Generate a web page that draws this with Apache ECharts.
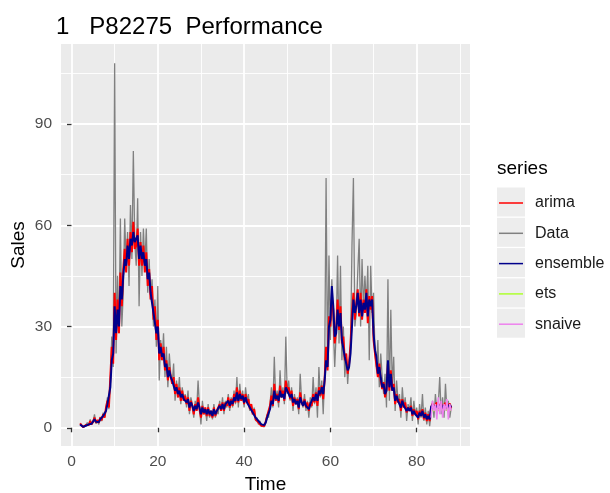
<!DOCTYPE html>
<html>
<head>
<meta charset="utf-8">
<script src="https://cdn.jsdelivr.net/npm/echarts@6/dist/echarts.min.js"></script>
<style>html,body{margin:0;padding:0;background:#fff}#chart{width:610px;height:493px}</style>
</head>
<body>
<div id="chart"></div>
<script>
// Time index of the series: starts at t = 2, three observations per unit of time
const tStart = 2;
const perUnit = 3;

const xTicks = [0, 20, 40, 60, 80];
const xMinorTicks = [10, 30, 50, 70, 90];
const yTicks = [0, 30, 60, 90];
const yMinorTicks = [15, 45, 75, 105];

const seriesNames = ['arima', 'Data', 'ensemble', 'ets', 'snaive'];

// Observed sales (t = 2 .. 88)
const dataValues = [
  1.2, 0.5, 0.2,  0.3, 0.8, 1.5,  0.8, 2.5, 1.0,  1.8, 4.0, 1.2,  2.0, 1.0, 3.2,   // t2-6
  2.0, 4.5, 3.0,  6.0, 9.0, 5.5,  14, 27, 18,  108, 22, 45,  28, 62, 30,           // t7-11
  40, 62, 48,  58, 42, 66,  50, 82, 55,  48, 68, 36,  58, 45, 59,                  // t12-16
  48, 59, 40,  50, 38, 44,  30, 38, 24,  42, 14, 26,  20, 28, 15,                  // t17-21
  24, 12, 22,  16, 13, 19,  8, 14, 9,  15, 7, 12,  8, 10, 6,                       // t22-26
  11, 4, 9,  7, 3, 8,  5, 14, 6,  1, 8, 4,  6, 2, 7,                               // t27-31
  3, 5, 2.5,  7, 3, 5,  4, 8, 5,  9, 4, 8,  6, 10, 5,                              // t32-36
  9, 6, 11,  7, 15, 6,  13, 8, 11,  6, 12, 8,  10, 5, 7,                           // t37-41
  4, 6, 2,  3, 1, 2,  0.5, 1, 0.3,  2, 4, 3,  7, 12, 6,                            // t42-46
  21, 8, 11,  6, 17, 9,  12, 7, 27,  10, 14, 8,  12, 5, 10,                        // t47-51
  7, 9, 4,  16, 8, 6,  10, 5, 8,  3, 9, 6,  15, 7, 12,                             // t52-56
  3, 18, 9,  14, 4, 16,  74, 18, 51,  26, 44, 30,  18, 28, 51,                     // t57-61
  25, 48, 20,  30, 15, 22,  13, 20, 24,  54, 74, 30,  34, 46, 56,                  // t62-66
  30, 50, 35,  45, 36, 48,  20, 48, 34,  40, 22, 18,  26, 12, 22,                  // t67-71
  15, 10, 16,  6, 44, 8,  35, 12, 21,  5, 14, 8,  10, 3, 12,                       // t72-76
  6, 9, 2,  7, 5, 9,  2, 8, 4,  6, 1, 7,  3, 10, 2,                                // t77-81
  6, 1, 5,  0.5, 4, 8,  3, 10, 5,  7, 15, 4,  9, 3, 13,                            // t82-86
  5, 8, 3,  6                                                                      // t87-88
];

// arima fitted values and forecast (t = 2 .. 88)
const arimaValues = [
  1.3, 0.8, 0.2,  0.2, 0.8, 1.3,  0.8, 2.0, 1.0,  1.8, 3.0, 1.5,  2.3, 1.5, 3.0,
  2.2, 4.0, 3.0,  6, 8, 6,  15, 24, 19,  40, 26, 38,  28, 46, 36,
  47, 53, 46,  56, 48, 58,  52, 61, 53,  54, 59, 48,  55, 48, 54,
  46, 52, 42,  47, 38, 42,  32, 36, 26,  32, 20, 25,  20, 24, 17,
  20, 14, 18,  15, 13, 15,  10, 13, 9,  12, 8, 11,  8, 9.5, 7,
  9, 5, 8,  6.5, 4, 7,  5, 9, 5.5,  3, 6.5, 4,  6, 3.5, 6,
  3.5, 5, 3,  6, 3.5, 5,  4.5, 7, 5,  7.5, 5, 7.5,  6.5, 9, 6,
  8.5, 6.5, 10,  7.5, 12, 7.5,  11, 8, 10,  7, 10, 7.5,  8.5, 5.5, 7,
  4, 5.5, 2.5,  3, 1.5, 2,  0.6, 1, 0.5,  1.8, 3.5, 3.2,  6.5, 9.5, 6.5,
  13, 8, 10,  7.5, 12.5, 9,  11, 8, 14,  10.5, 12, 8.5,  11, 6.5, 9,
  7, 8.5, 5.5,  10.5, 7.5, 6.5,  8.5, 6, 7.5,  5, 7.5, 6.5,  10, 7.5, 10.5,
  6.5, 12, 9.5,  12.5, 8.5, 14.5,  24, 17, 33,  30, 38, 35,  25, 29, 38,
  29, 36, 25,  27, 20, 22,  16, 19, 25,  34, 40, 32,  37, 41, 33,
  40, 32, 38,  34, 41, 31,  39, 35, 39,  26, 22, 22,  15, 19, 14,
  11.5, 13.5, 9,  11.5, 19, 11,  17, 11, 13,  7, 10, 7.5,  8.5, 5, 8.5,
  6, 7.5, 4.5,  6, 5, 6.5,  3.5, 5.5, 4,  5, 2.5, 5,  3.5, 5.5, 2.5,
  4.5, 2, 4,  2, 6.0, 7.2,  5.5, 6.8, 7.5,  5.8, 6.6, 7.3,  5.6, 6.7, 7.4,
  5.7, 6.5, 7.2,  5.8
];

// ensemble fitted values and forecast (t = 2 .. 88)
const ensembleValues = [
  1.0, 0.6, 0.3,  0.3, 0.6, 1.0,  1.0, 1.5, 1.2,  1.5, 2.5, 1.8,  2.0, 1.7, 2.5,
  2.5, 3.5, 3.2,  5, 7, 7,  12, 20, 22,  36, 28, 35,  30, 42, 38,
  45, 50, 48,  54, 50, 56,  54, 58, 55,  56, 57, 50,  54, 50, 52,
  48, 50, 44,  46, 40, 40,  34, 34, 28,  30, 22, 24,  21, 22, 18,
  19, 15, 17,  15, 14, 14,  11, 12, 10,  11, 9, 10,  8.5, 9, 7.5,
  8.5, 6, 7.5,  6.5, 5, 6.5,  5.5, 7.5, 6,  4, 6, 4.5,  5.5, 4, 5.5,
  4, 5, 3.5,  5.5, 4, 5,  4.5, 6.5, 5.5,  7, 5.5, 7,  6.5, 8, 6.5,
  8, 7, 9,  8, 10.5, 8,  10, 8.5, 9.5,  7.5, 9, 7.5,  8, 6, 6.5,
  4.5, 5, 3,  3, 2, 2,  1, 1, 0.8,  1.5, 3, 3.5,  5.5, 8, 7,
  11, 8.5, 9.5,  8, 11, 9,  10, 8.5, 12,  11, 11, 9,  10, 7.5, 8.5,
  7, 8, 6,  9, 7.5, 6.5,  8, 6.5, 7,  5.5, 7, 7,  9, 8, 10,
  8, 11, 10,  12, 10, 14,  20, 18, 30,  32, 42, 36,  27, 28, 35,
  30, 34, 26,  26, 21, 21,  17, 18, 22,  30, 38, 34,  36, 40, 34,
  38, 33, 37,  35, 40, 33,  38, 36, 38,  28, 23, 21,  16, 18, 15,
  12, 13, 10,  11, 20, 12,  16, 11, 12,  8, 9.5, 8,  8, 6, 8,
  6.5, 7, 5,  6, 5, 6,  4, 5, 4,  4.5, 3, 4.5,  3.5, 5, 3,
  4, 2.5, 3.5,  2.5, 6.2, 6.8,  5.9, 6.5, 7.0,  6.0, 6.4, 6.9,  5.8, 6.5, 7.0,
  6.0, 6.4, 6.8,  6.0
];

// forecasts only (t = 83.33 .. 88)
const forecastOffset = 244;
const etsValues = [5.3, 5.6, 5.0, 5.4, 5.7, 5.1, 5.3, 5.6, 5.0, 5.4, 5.7, 5.1, 5.3, 5.6, 5.0];
const snaiveValues = [3, 8, 5, 7, 2.5, 9, 4, 8, 3, 7, 5, 8.5, 2.5, 7, 5];

function toPairs(values, offset) {
  return values.map((v, i) => [tStart + (offset + i) / perUnit, v]);
}

const FONT = 'Liberation Sans, Arial, sans-serif';
const gridL = 61, gridR = 140, gridT = 44, gridB = 47;
const legendTop = 187, rowH = 30.3;

const chart = echarts.init(document.getElementById('chart'), null, {renderer: 'canvas'});

const keyRects = seriesNames.map((n, i) => ({
  type: 'rect', left: 497, top: legendTop + i * rowH + 0.5, z: 0,
  shape: {width: 28, height: 29}, style: {fill: '#EDEDED'}, silent: true
}));

const baseLine = {show: false};
chart.setOption({
  animation: false,
  backgroundColor: '#ffffff',
  textStyle: {fontFamily: FONT},
  title: {
    text: '1   P82275  Performance', left: 51, top: 10,
    textStyle: {fontFamily: FONT, fontSize: 24, fontWeight: 'normal', color: '#000'}
  },
  grid: {left: gridL, right: gridR, top: gridT, bottom: gridB, show: true,
         containLabel: false, outerBoundsMode: 'none',
         backgroundColor: '#EBEBEB', borderWidth: 0},
  graphic: [
    {type: 'text', left: 497, top: 159, z: 0,
     style: {text: 'series', fontFamily: FONT, fontSize: 19, fill: '#000'}},
    ...keyRects
  ],
  legend: {
    data: seriesNames, orient: 'vertical', left: 499, top: legendTop + 1, padding: 0,
    icon: 'rect', itemWidth: 24, itemHeight: 1.5, itemGap: 0.3,
    textStyle: {fontFamily: FONT, fontSize: 16, color: '#1a1a1a', lineHeight: 30, padding: [0, 0, 0, 7]},
    selectedMode: false
  },
  xAxis: [{
    type: 'value', min: -2.43, max: 92.35,
    name: 'Time', nameLocation: 'middle', nameGap: 29, nameMoveOverlap: false,
    nameTextStyle: {fontFamily: FONT, fontSize: 19, color: '#000'},
    axisLine: baseLine,
    axisTick: {show: true, length: 4.5, lineStyle: {color: '#333', width: 1.3}, customValues: xTicks},
    axisLabel: {customValues: xTicks, color: '#4D4D4D', fontSize: 15.5, margin: 8, fontFamily: FONT},
    splitLine: {show: true, lineStyle: {color: '#fff', width: 1.8}}
  }, {
    type: 'value', min: -2.43, max: 92.35, position: 'bottom',
    axisLine: baseLine, axisLabel: {show: false},
    axisTick: {show: false, customValues: xMinorTicks},
    splitLine: {show: true, lineStyle: {color: '#fff', width: 0.9}}
  }],
  yAxis: [{
    type: 'value', min: -5.4, max: 113.7,
    name: 'Sales', nameLocation: 'middle', nameGap: 33, nameRotate: 90, nameMoveOverlap: false,
    nameTextStyle: {fontFamily: FONT, fontSize: 19, color: '#000'},
    axisLine: baseLine,
    axisTick: {show: true, length: 4.5, lineStyle: {color: '#333', width: 1.3}, customValues: yTicks},
    axisLabel: {customValues: yTicks, color: '#4D4D4D', fontSize: 15.5, margin: 9, fontFamily: FONT},
    splitLine: {show: true, lineStyle: {color: '#fff', width: 1.8}}
  }, {
    type: 'value', min: -5.4, max: 113.7, position: 'left',
    axisLine: baseLine, axisLabel: {show: false},
    axisTick: {show: false, customValues: yMinorTicks},
    splitLine: {show: true, lineStyle: {color: '#fff', width: 0.9}}
  }],
  series: [
    {name: 'Data', type: 'line', data: toPairs(dataValues, 0), showSymbol: false,
     color: '#808080', lineStyle: {width: 1.3, color: '#808080'}, z: 2},
    {name: 'arima', type: 'line', data: toPairs(arimaValues, 0), showSymbol: false,
     color: '#FF0000', lineStyle: {width: 2.0, color: '#FF0000'}, z: 3},
    {name: 'ensemble', type: 'line', data: toPairs(ensembleValues, 0), showSymbol: false,
     color: '#00008B', lineStyle: {width: 2.0, color: '#00008B'}, z: 4},
    {name: 'ets', type: 'line', data: toPairs(etsValues, forecastOffset), showSymbol: false,
     color: '#ADFF2F', lineStyle: {width: 1.5, color: '#ADFF2F'}, z: 5},
    {name: 'snaive', type: 'line', data: toPairs(snaiveValues, forecastOffset), showSymbol: false,
     color: '#EE82EE', lineStyle: {width: 1.5, color: '#EE82EE'}, z: 6}
  ]
});
</script>
</body>
</html>
